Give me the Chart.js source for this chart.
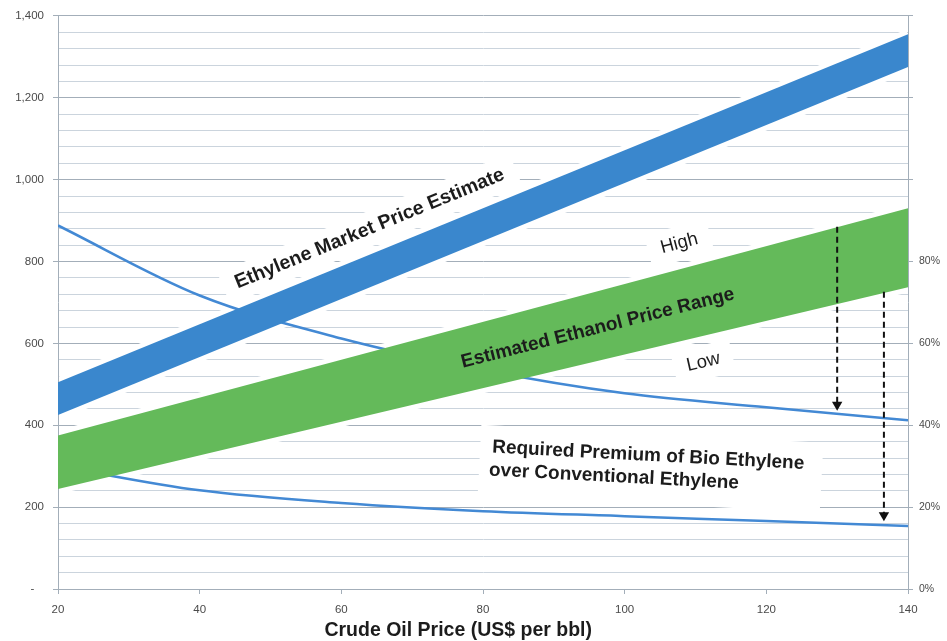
<!DOCTYPE html>
<html>
<head>
<meta charset="utf-8">
<script src="https://cdn.jsdelivr.net/npm/chart.js@4.4.1/dist/chart.umd.min.js"></script>
<style>
  html, body { margin: 0; padding: 0; background: #fff; }
</style>
</head>
<body>
<canvas id="myChart" width="947" height="641"></canvas>
<script>
// Crude oil price (US$ per bbl) at the ends of the price bands
const oilPrice = [20, 140];
// Ethylene market price estimate (US$ per tonne), upper and lower edge
const ethyleneHigh = [505, 1355];
const ethyleneLow = [425, 1275];
// Estimated ethanol price range, upper and lower edge
const ethanolHigh = [375, 930];
const ethanolLow = [244, 737];

// Required premium of bio ethylene over conventional ethylene (right axis)
const premiumOil = [20, 40, 60, 80, 100, 120, 140];
const premiumHigh = [0.888, 0.717, 0.612, 0.535, 0.478, 0.444, 0.412];
const premiumLow = [0.300, 0.241, 0.210, 0.190, 0.178, 0.166, 0.154];

// Dashed arrows from the ethanol band down to the premium curves
const arrowOil = [130, 136.6];
const arrowFrom = [0.885, 0.726];
const arrowTo = [0.450, 0.180];

const FONT = '"Liberation Sans", Arial, sans-serif';
const BLUE = '#3a87cd';
const GREEN = '#64ba5a';
const LINE = '#4389d4';
const MAJOR = '#a3aeb9';
const MINOR = '#cbd4dd';

const toPoints = (xs, ys) => xs.map((x, i) => ({ x: x, y: ys[i] }));

// text placed in data coordinates
const notes = [
  { text: 'Ethylene Market Price Estimate', oil: 64.0, price: 880, font: 'bold 19.5px ', band: 0 },
  { text: 'Estimated Ethanol Price Range', oil: 96.2, price: 637, font: 'bold 19px ', band: 1 },
  { text: 'High', oil: 107.7, price: 844, font: '18.5px ', angle: -15 },
  { text: 'Low', oil: 111.1, price: 554, font: '18.5px ', angle: -13 }
];
const premiumNote = {
  lines: ['Required Premium of Bio Ethylene', 'over Conventional Ethylene'],
  oil: 81.3, price: 346, angle: 3, spacing: 23, font: 'bold 19px '
};
const axisTitle = { text: 'Crude Oil Price (US$ per bbl)', oil: 76.5, font: 'bold 19.5px ' };

const bands = [[ethyleneHigh, ethyleneLow], [ethanolHigh, ethanolLow]];

function bandAngle(chart, b) {
  const x = chart.scales.x, y = chart.scales.y;
  const [hi, lo] = bands[b];
  const y0 = y.getPixelForValue((hi[0] + lo[0]) / 2);
  const y1 = y.getPixelForValue((hi[1] + lo[1]) / 2);
  return Math.atan2(y1 - y0, x.getPixelForValue(oilPrice[1]) - x.getPixelForValue(oilPrice[0]));
}

function noteFrame(chart, n) {
  const cx = chart.scales.x.getPixelForValue(n.oil);
  const cy = chart.scales.y.getPixelForValue(n.price);
  const a = n.band !== undefined ? bandAngle(chart, n.band) : n.angle * Math.PI / 180;
  return { cx, cy, a };
}

const notesPlugin = {
  id: 'notes',
  beforeDatasetsDraw(chart) {
    const ctx = chart.ctx, area = chart.chartArea;
    const sx = chart.scales.x, sy = chart.scales.y;
    ctx.save();
    ctx.beginPath();
    ctx.rect(area.left + 1, area.top + 1, area.right - area.left - 2, area.bottom - area.top - 2);
    ctx.clip();
    ctx.fillStyle = '#fff';
    ctx.strokeStyle = '#fff';
    // white margin round each band
    bands.forEach(([hi, lo]) => {
      ctx.beginPath();
      ctx.moveTo(sx.getPixelForValue(oilPrice[0]), sy.getPixelForValue(hi[0]));
      ctx.lineTo(sx.getPixelForValue(oilPrice[1]), sy.getPixelForValue(hi[1]));
      ctx.lineTo(sx.getPixelForValue(oilPrice[1]), sy.getPixelForValue(lo[1]));
      ctx.lineTo(sx.getPixelForValue(oilPrice[0]), sy.getPixelForValue(lo[0]));
      ctx.closePath();
      ctx.lineWidth = 10;
      ctx.fill();
      ctx.stroke();
    });
    // white boxes behind the labels
    notes.forEach(n => {
      const f = noteFrame(chart, n);
      ctx.font = n.font + FONT;
      const w = ctx.measureText(n.text).width + 26;
      const h = 34;
      ctx.save();
      ctx.translate(f.cx, f.cy);
      ctx.rotate(f.a);
      ctx.fillRect(-w / 2, -h / 2, w, h);
      ctx.restore();
    });
    const p = premiumNote;
    ctx.save();
    ctx.translate(sx.getPixelForValue(p.oil), sy.getPixelForValue(p.price));
    ctx.rotate(p.angle * Math.PI / 180);
    ctx.font = p.font + FONT;
    const pw = Math.max(...p.lines.map(t => ctx.measureText(t).width));
    ctx.fillRect(-12, -22, pw + 30, p.spacing * p.lines.length + 24);
    ctx.restore();
    ctx.restore();
  },
  afterDatasetsDraw(chart) {
    const ctx = chart.ctx;
    const sx = chart.scales.x, sy = chart.scales.y;
    ctx.save();
    ctx.fillStyle = '#1c1c1c';
    ctx.textAlign = 'center';
    ctx.textBaseline = 'middle';
    notes.forEach(n => {
      const f = noteFrame(chart, n);
      ctx.font = n.font + FONT;
      ctx.save();
      ctx.translate(f.cx, f.cy);
      ctx.rotate(f.a);
      ctx.fillText(n.text, 0, 0);
      ctx.restore();
    });
    // x axis title
    ctx.font = axisTitle.font + FONT;
    ctx.fillText(axisTitle.text, sx.getPixelForValue(axisTitle.oil), sx.bottom - 10);
    const p = premiumNote;
    ctx.translate(sx.getPixelForValue(p.oil), sy.getPixelForValue(p.price));
    ctx.rotate(p.angle * Math.PI / 180);
    ctx.textAlign = 'left';
    ctx.font = p.font + FONT;
    p.lines.forEach((t, i) => ctx.fillText(t, -i * 2, i * p.spacing));
    ctx.restore();
  }
};

const arrowSets = arrowOil.map((x, i) => ({
  data: [{ x: x, y: arrowFrom[i] }, { x: x, y: arrowTo[i] }],
  yAxisID: 'y1',
  borderColor: '#111',
  backgroundColor: '#111',
  borderWidth: 2,
  borderDash: [6, 4],
  pointStyle: 'triangle',
  rotation: 180,
  pointRadius: [0, 6],
  pointBorderWidth: 0,
  fill: false,
  order: 0
}));

const chartData = {
  datasets: [
    ...arrowSets,
    { data: toPoints(oilPrice, ethyleneHigh), borderWidth: 0, pointRadius: 0,
      backgroundColor: BLUE, fill: '+1', order: 1 },
    { data: toPoints(oilPrice, ethyleneLow), borderWidth: 0, pointRadius: 0, fill: false, order: 1 },
    { data: toPoints(oilPrice, ethanolHigh), borderWidth: 0, pointRadius: 0,
      backgroundColor: GREEN, fill: '+1', order: 1 },
    { data: toPoints(oilPrice, ethanolLow), borderWidth: 0, pointRadius: 0, fill: false, order: 1 },
    { data: toPoints(premiumOil, premiumHigh), yAxisID: 'y1', borderColor: LINE, borderWidth: 2.5,
      pointRadius: 0, cubicInterpolationMode: 'monotone', fill: false, order: 2 },
    { data: toPoints(premiumOil, premiumLow), yAxisID: 'y1', borderColor: LINE, borderWidth: 2.5,
      pointRadius: 0, cubicInterpolationMode: 'monotone', fill: false, order: 2 }
  ]
};

const tickFont = { family: FONT, size: 11.5 };

const config = {
  type: 'line',
  data: chartData,
  options: {
    responsive: false,
    animation: false,
    devicePixelRatio: 1,
    layout: { padding: { top: 14, left: 0, right: 0, bottom: 0 } },
    plugins: { legend: { display: false }, tooltip: { enabled: false } },
    scales: {
      x: {
        type: 'linear', min: 20, max: 140,
        afterFit: s => { s.height = 52; },
        ticks: { stepSize: 20, color: '#4a4a4a', font: tickFont, padding: 9, maxRotation: 0 },
        grid: { drawOnChartArea: false, tickLength: 5, tickColor: MAJOR },
        border: { color: MAJOR }
      },
      y: {
        position: 'left', min: 0, max: 1400,
        afterFit: s => { s.width = 58; },
        ticks: {
          stepSize: 40, maxTicksLimit: 100, autoSkip: false, color: '#4a4a4a', font: tickFont, padding: 9,
          callback: v => v % 200 !== 0 ? '' : (v === 0 ? '-   ' : v.toLocaleString('en-US'))
        },
        grid: {
          color: c => c.tick.value % 200 === 0 ? MAJOR : MINOR,
          tickColor: c => c.tick.value % 200 === 0 ? MAJOR : 'rgba(0,0,0,0)',
          tickLength: 5
        },
        border: { color: MAJOR }
      },
      y1: {
        position: 'right', min: 0, max: 1.4,
        afterFit: s => { s.width = 39; },
        ticks: {
          stepSize: 0.2, color: '#4a4a4a', font: { family: FONT, size: 10.5 }, padding: 6,
          callback: v => v > 0.81 ? '' : Math.round(v * 100) + '%'
        },
        grid: { drawOnChartArea: false, tickLength: 5, tickColor: MAJOR },
        border: { color: MAJOR }
      }
    }
  },
  plugins: [notesPlugin]
};

const myChart = new Chart(document.getElementById('myChart'), config);
</script>
</body>
</html>
